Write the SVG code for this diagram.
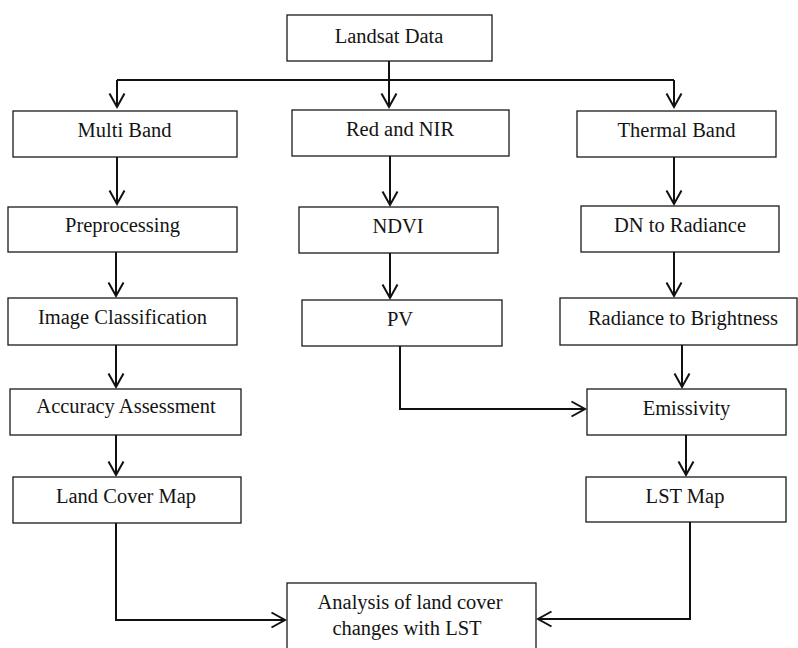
<svg xmlns="http://www.w3.org/2000/svg" width="798" height="648" viewBox="0 0 798 648">
<style>
.box{fill:#fff;stroke:#1a1a1a;stroke-width:1.3}
.t{font-family:"Liberation Serif","Times New Roman",serif;font-size:20.5px;fill:#141414;text-anchor:middle}
.c{fill:none;stroke:#111;stroke-width:2}
</style>
<defs>
<marker id="arr" markerUnits="userSpaceOnUse" markerWidth="18" markerHeight="20" refX="14" refY="8" orient="auto" overflow="visible">
<path d="M0.5,0.5 L14,8 L0.5,15.5" fill="none" stroke="#111" stroke-width="2"/>
</marker>
</defs>
<rect width="798" height="648" fill="#fff"/>
<g id="connectors">
<path class="c" d="M389,61 V107" marker-end="url(#arr)"/>
<path class="c" d="M117,80 H674"/>
<path class="c" d="M117,80 V107" marker-end="url(#arr)"/>
<path class="c" d="M674,80 V107" marker-end="url(#arr)"/>
<path class="c" d="M117,157 V204" marker-end="url(#arr)"/>
<path class="c" d="M116,252 V296" marker-end="url(#arr)"/>
<path class="c" d="M116,345 V387" marker-end="url(#arr)"/>
<path class="c" d="M116,435 V475" marker-end="url(#arr)"/>
<path class="c" d="M116,523 V620 H285" marker-end="url(#arr)"/>
<path class="c" d="M390,156 V205" marker-end="url(#arr)"/>
<path class="c" d="M390,253 V298" marker-end="url(#arr)"/>
<path class="c" d="M400,346 V409 H585" marker-end="url(#arr)"/>
<path class="c" d="M674,157 V204" marker-end="url(#arr)"/>
<path class="c" d="M674,252 V296" marker-end="url(#arr)"/>
<path class="c" d="M682,345 V387" marker-end="url(#arr)"/>
<path class="c" d="M686,435 V475" marker-end="url(#arr)"/>
<path class="c" d="M690,522 V619 H538" marker-end="url(#arr)"/>
</g>
<g id="landsat"><rect class="box" x="287" y="15" width="205" height="46"/><text class="t" x="389" y="43">Landsat Data</text></g>
<g id="multiband"><rect class="box" x="13" y="111" width="224" height="46"/><text class="t" x="124.5" y="137">Multi Band</text></g>
<g id="rednir"><rect class="box" x="292" y="110" width="217" height="46"/><text class="t" x="400" y="136">Red and NIR</text></g>
<g id="thermal"><rect class="box" x="577" y="111" width="199" height="46"/><text class="t" x="676.5" y="137">Thermal Band</text></g>
<g id="preprocessing"><rect class="box" x="8" y="207" width="229" height="45"/><text class="t" x="122.5" y="232">Preprocessing</text></g>
<g id="ndvi"><rect class="box" x="299" y="207" width="199" height="46"/><text class="t" x="398" y="233">NDVI</text></g>
<g id="dn"><rect class="box" x="581" y="206" width="198" height="46"/><text class="t" x="680" y="232">DN to Radiance</text></g>
<g id="imgcls"><rect class="box" x="8" y="298" width="229" height="47"/><text class="t" x="122.5" y="324">Image Classification</text></g>
<g id="pv"><rect class="box" x="302" y="300" width="200" height="46"/><text class="t" x="400" y="326">PV</text></g>
<g id="radbright"><rect class="box" x="560" y="298" width="237" height="47"/><text class="t" x="683" y="325">Radiance to Brightness</text></g>
<g id="accuracy"><rect class="box" x="10" y="389" width="231" height="46"/><text class="t" x="126" y="413">Accuracy Assessment</text></g>
<g id="emissivity"><rect class="box" x="587" y="389" width="199" height="46"/><text class="t" x="686.5" y="415">Emissivity</text></g>
<g id="landcover"><rect class="box" x="13" y="477" width="228" height="46"/><text class="t" x="126" y="503">Land Cover Map</text></g>
<g id="lstmap"><rect class="box" x="586" y="477" width="200" height="45"/><text class="t" x="685" y="503">LST Map</text></g>
<g id="analysis"><rect class="box" x="287" y="583" width="249" height="75"/><text class="t" x="410" y="609">Analysis of land cover</text><text class="t" x="407" y="635">changes with LST</text></g>
</svg>
